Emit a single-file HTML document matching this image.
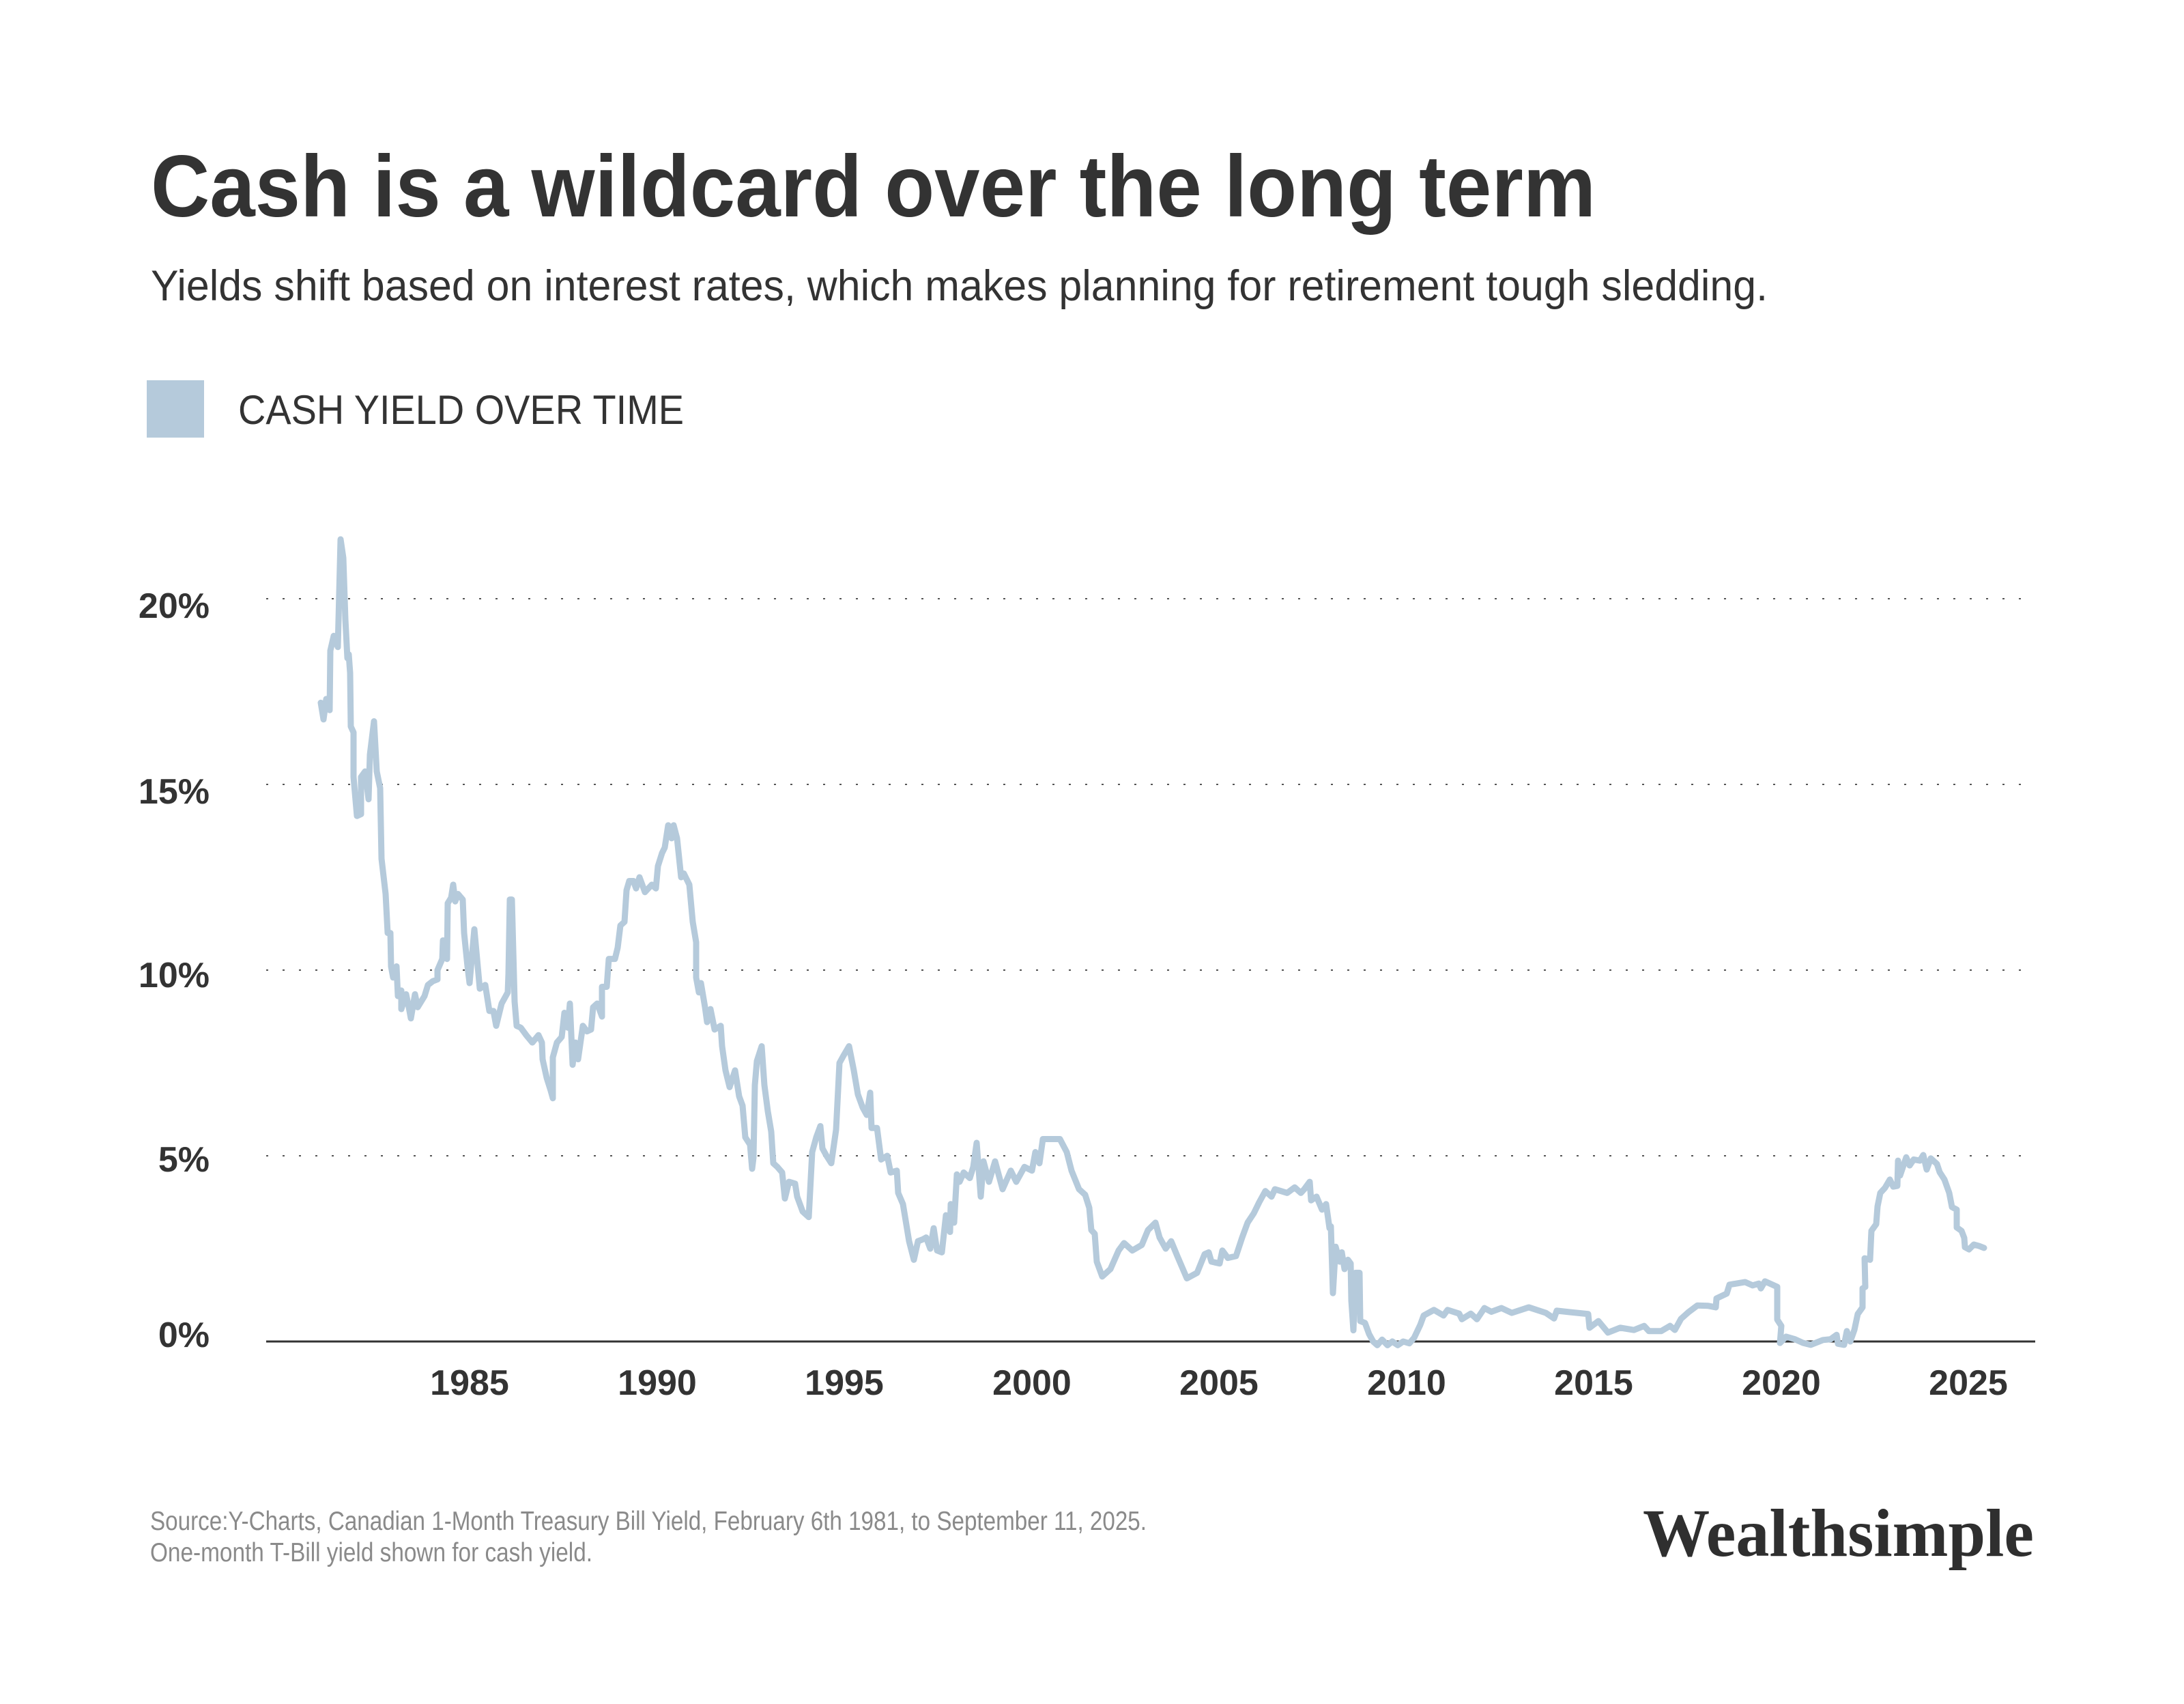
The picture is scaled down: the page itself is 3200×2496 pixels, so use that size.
<!DOCTYPE html>
<html><head><meta charset="utf-8"><style>
html,body{margin:0;padding:0;background:#fff;}
svg{display:block;}
</style></head><body>
<svg width="3200" height="2496" viewBox="0 0 3200 2496" xmlns="http://www.w3.org/2000/svg">
<rect width="3200" height="2496" fill="#fff"/>
<g font-family="'Liberation Sans', sans-serif" fill="#333">
<text x="221" y="317" font-size="128" font-weight="bold" textLength="2117" lengthAdjust="spacingAndGlyphs">Cash is a wildcard over the long term</text>
<text x="221" y="440" font-size="63" textLength="2369" lengthAdjust="spacingAndGlyphs">Yields shift based on interest rates, which makes planning for retirement tough sledding.</text>
<rect x="215" y="557" width="84" height="84" fill="#b5cadb"/>
<text x="349" y="621" font-size="60" textLength="653" lengthAdjust="spacingAndGlyphs">CASH YIELD OVER TIME</text>
</g>
<g stroke="#555" stroke-width="2" stroke-dasharray="3 21">
<line x1="390" y1="877" x2="2982" y2="877"/>
<line x1="390" y1="1149" x2="2982" y2="1149"/>
<line x1="390" y1="1421" x2="2982" y2="1421"/>
<line x1="390" y1="1693" x2="2982" y2="1693"/>
</g>
<line x1="390" y1="1965" x2="2982" y2="1965" stroke="#333" stroke-width="3"/>
<g font-family="'Liberation Sans', sans-serif" font-size="52" font-weight="bold" fill="#333" text-anchor="end">
<text x="307" y="905">20%</text>
<text x="307" y="1177">15%</text>
<text x="307" y="1446">10%</text>
<text x="307" y="1716">5%</text>
<text x="307" y="1973">0%</text>
</g>
<g font-family="'Liberation Sans', sans-serif" font-size="52" font-weight="bold" fill="#333" text-anchor="middle">
<text x="688" y="2043">1985</text>
<text x="963" y="2043">1990</text>
<text x="1237" y="2043">1995</text>
<text x="1512" y="2043">2000</text>
<text x="1786" y="2043">2005</text>
<text x="2061" y="2043">2010</text>
<text x="2335" y="2043">2015</text>
<text x="2610" y="2043">2020</text>
<text x="2884" y="2043">2025</text>
</g>
<g transform="matrix(1,0,0,-54.4,0,1965)">
<polyline fill="none" stroke="#b5cadb" stroke-width="9" stroke-linejoin="round" stroke-linecap="round" vector-effect="non-scaling-stroke" points="470,17.2 474,16.75 478,17.3 483,17.0 484,18.6 489,19.0 495,18.7 499,21.6 503,21.1 506,19.45 509,18.4 511,18.5 513,18.0 514,16.56 518,16.4 518,15.2 523,14.15 529,14.2 529,15.2 535,15.35 540,14.6 542,15.8 548,16.7 552,15.35 557,14.9 559,13.0 565,12.05 568,11.0 572,11.0 573,10.1 576,9.8 581,10.1 583,9.3 588,9.45 588,8.95 595,9.35 599,9.0 602,8.7 608,9.35 612,9.0 622,9.3 627,9.6 634,9.7 641,9.75 641,10.0 648,10.3 649,10.8 655,10.3 656,11.8 661,11.95 664,12.3 667,11.85 671,12.05 678,11.9 680,11.0 685,10.1 688,9.65 695,11.1 703,9.5 711,9.6 717,8.9 723,8.9 727,8.5 735,9.1 744,9.4 745,9.9 747,11.9 750,11.9 754,9.15 757,8.5 763,8.45 771,8.25 780,8.05 789,8.25 794,8.05 795,7.6 801,7.1 807,6.75 810,6.55 810,7.65 816,8.05 823,8.2 827,8.85 832,8.45 835,9.1 839,7.45 843,8.05 847,7.6 854,8.5 860,8.35 866,8.4 869,9.0 875,9.1 882,8.75 882,9.55 889,9.55 892,10.3 901,10.3 905,10.6 909,11.2 915,11.3 918,12.15 922,12.4 928,12.4 932,12.2 937,12.5 945,12.1 955,12.3 961,12.2 964,12.8 970,13.15 974,13.3 979,13.9 984,13.55 987,13.9 992,13.55 998,12.5 1002,12.6 1010,12.3 1013,11.7 1015,11.3 1020,10.75 1020,9.8 1024,9.4 1027,9.65 1033,9.0 1036,8.6 1041,8.95 1047,8.4 1056,8.5 1058,7.95 1063,7.3 1069,6.85 1077,7.3 1083,6.6 1088,6.35 1092,5.5 1099,5.3 1102,4.65 1104,4.95 1106,6.9 1109,7.55 1116,7.95 1120,6.9 1125,6.2 1130,5.65 1133,4.8 1139,4.7 1146,4.55 1150,3.85 1156,4.3 1165,4.25 1168,3.9 1176,3.5 1185,3.35 1190,5.1 1196,5.5 1202,5.8 1205,5.2 1211,5.0 1218,4.8 1225,5.7 1230,7.5 1236,7.7 1244,7.95 1251,7.3 1257,6.65 1264,6.3 1270,6.1 1275,6.7 1277,5.75 1285,5.75 1291,4.9 1300,5.0 1305,4.55 1314,4.6 1316,4.0 1323,3.7 1332,2.7 1339,2.2 1345,2.7 1352,2.75 1357,2.8 1363,2.5 1368,3.05 1373,2.45 1380,2.4 1386,3.4 1392,2.95 1393,3.7 1398,3.2 1402,4.5 1406,4.3 1412,4.55 1421,4.4 1426,4.7 1431,5.35 1437,3.9 1441,4.85 1449,4.3 1458,4.85 1469,4.1 1481,4.6 1489,4.3 1501,4.7 1512,4.6 1517,5.1 1523,4.8 1528,5.45 1541,5.45 1553,5.45 1563,5.1 1570,4.6 1581,4.1 1590,3.95 1596,3.6 1599,3.0 1604,2.9 1607,2.15 1615,1.75 1627,1.95 1639,2.45 1647,2.65 1659,2.45 1673,2.6 1682,3.0 1693,3.2 1699,2.8 1708,2.5 1716,2.7 1725,2.3 1739,1.7 1754,1.85 1765,2.35 1771,2.4 1775,2.15 1787,2.1 1791,2.45 1799,2.25 1811,2.3 1820,2.8 1828,3.2 1837,3.45 1845,3.75 1854,4.05 1863,3.9 1868,4.1 1886,4.0 1897,4.15 1906,4.0 1911,4.1 1919,4.3 1921,3.8 1929,3.9 1937,3.55 1943,3.7 1948,3.05 1950,3.1 1953,1.3 1957,2.55 1963,2.15 1966,2.4 1970,1.95 1975,2.2 1979,2.1 1980,1.1 1983,0.3 1986,1.85 1992,1.85 1993,0.55 2000,0.5 2006,0.2 2012,0.0 2018,-0.1 2025,0.05 2033,-0.1 2040,0.0 2048,-0.1 2056,0.0 2065,-0.05 2072,0.1 2081,0.45 2086,0.7 2101,0.85 2115,0.7 2121,0.85 2138,0.75 2142,0.6 2155,0.75 2164,0.6 2175,0.9 2185,0.8 2200,0.9 2215,0.77 2240,0.92 2265,0.77 2277,0.62 2281,0.83 2300,0.79 2327,0.74 2329,0.37 2342,0.55 2356,0.24 2374,0.37 2394,0.31 2409,0.42 2416,0.28 2434,0.28 2447,0.42 2454,0.31 2463,0.61 2474,0.79 2487,0.97 2503,0.96 2514,0.92 2515,1.16 2530,1.29 2534,1.53 2557,1.6 2568,1.51 2577,1.56 2580,1.43 2586,1.62 2604,1.47 2604,0.59 2610,0.42 2608,-0.04 2617,0.13 2630,0.06 2642,-0.04 2653,-0.09 2671,0.04 2682,0.06 2691,0.18 2693,-0.06 2702,-0.09 2706,0.28 2711,0 2717,0.31 2722,0.74 2729,0.92 2729,1.43 2733,1.47 2732,2.24 2740,2.2 2742,2.98 2749,3.16 2751,3.64 2755,4.0 2762,4.14 2769,4.36 2774,4.17 2780,4.19 2781,4.87 2784,4.47 2793,4.96 2798,4.74 2804,4.9 2813,4.87 2818,5.02 2823,4.63 2829,4.93 2838,4.78 2842,4.56 2849,4.36 2856,4.0 2860,3.62 2867,3.55 2867,3.07 2874,2.98 2878,2.79 2879,2.54 2885,2.48 2892,2.61 2900,2.57 2907,2.52"/>
</g>
<g font-family="'Liberation Sans', sans-serif" font-size="39" fill="#8a8a8a">
<text x="220" y="2241" textLength="1460" lengthAdjust="spacingAndGlyphs">Source:Y-Charts, Canadian 1-Month Treasury Bill Yield, February 6th 1981, to September 11, 2025.</text>
<text x="220" y="2287" textLength="648" lengthAdjust="spacingAndGlyphs">One-month T-Bill yield shown for cash yield.</text>
</g>
<text x="2407" y="2279" font-family="'Liberation Serif', serif" font-weight="bold" font-size="100" fill="#2f2f2f" textLength="573" lengthAdjust="spacingAndGlyphs">Wealthsimple</text>
</svg>
</body></html>
